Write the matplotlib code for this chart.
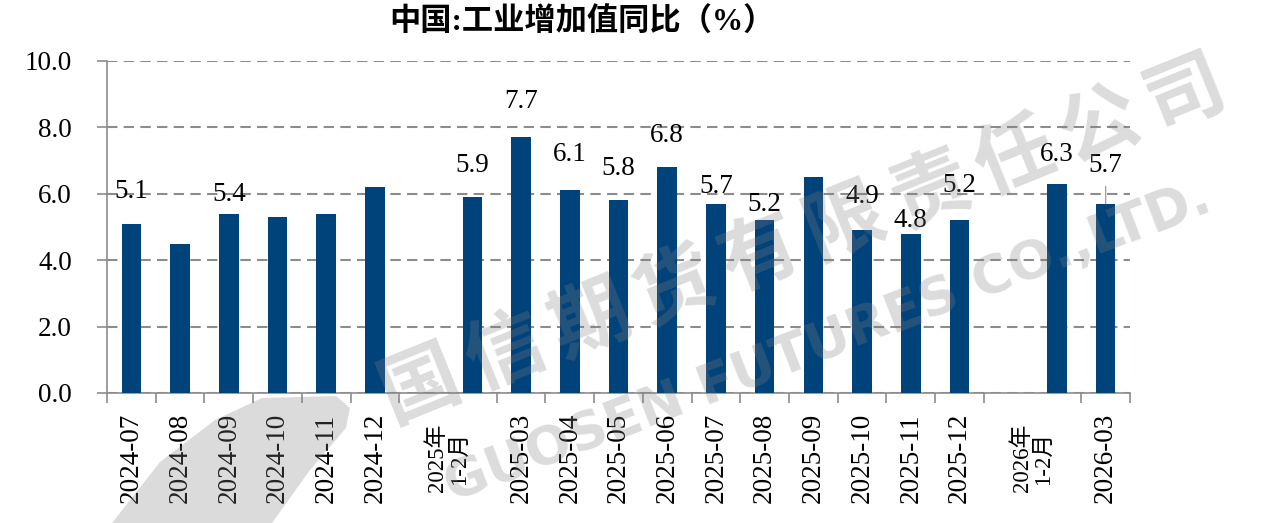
import matplotlib.pyplot as plt
from matplotlib.patches import Polygon
import numpy as np

plt.rcParams['font.family'] = ['Liberation Serif', 'Noto Sans CJK SC']

# Données : production industrielle, glissement annuel (%)
months = ['2024-07', '2024-08', '2024-09', '2024-10', '2024-11', '2024-12',
          '2025-01', '2025-02', '2025-03', '2025-04', '2025-05', '2025-06',
          '2025-07', '2025-08', '2025-09', '2025-10', '2025-11', '2025-12',
          '2026-01', '2026-02', '2026-03']
values = [5.1, 4.5, 5.4, 5.3, 5.4, 6.2,
          np.nan, 5.9, 7.7, 6.1, 5.8, 6.8,
          5.7, 5.2, 6.5, 4.9, 4.8, 5.2,
          np.nan, 6.3, 5.7]
tick_labels = ['2024-07', '2024-08', '2024-09', '2024-10', '2024-11', '2024-12',
               '2025年\n1-2月', '2025-03', '2025-04', '2025-05', '2025-06',
               '2025-07', '2025-08', '2025-09', '2025-10', '2025-11', '2025-12',
               '2026年\n1-2月', '2026-03']
title = '中国:工业增加值同比（%）'

# étiquettes affichées et leur décalage au-dessus de la barre (pixels)
label_offsets = {'2024-07': 32, '2024-09': 19, '2025-02': 32, '2025-03': 36,
                 '2025-04': 36, '2025-05': 32, '2025-06': 32, '2025-07': 17,
                 '2025-08': 16, '2025-10': 34, '2025-11': 13, '2025-12': 35,
                 '2026-02': 29, '2026-03': 38}

W, H = 1274, 523
fig = plt.figure(figsize=(W / 100, H / 100), dpi=100)
ax = fig.add_axes([107 / W, (H - 393) / H, (1130 - 107) / W, (393 - 61) / H])

x = np.arange(len(months))
bar_color = '#00427A'
grey = '#8c8c8c'
ax.bar(x, values, width=0.4, color=bar_color, zorder=3)

for i, m in enumerate(months):
    if m in label_offsets:
        arrow = None
        if m == '2026-03':
            arrow = dict(arrowstyle='-', color='#a0a0a0', lw=1, shrinkA=4, shrinkB=0)
        ax.annotate(f"{values[i]:.1f}", (i, values[i]), xytext=(0, label_offsets[m]),
                    textcoords='offset pixels', ha='center', va='center',
                    fontsize=19.5, zorder=5, arrowprops=arrow)

# axes
ax.set_xlim(-0.5, len(months) - 0.5)
ax.set_ylim(0, 10)
ax.set_yticks(np.arange(0, 10.1, 2))
ax.set_yticklabels([f"{v:.1f}" for v in np.arange(0, 10.1, 2)])
ax.yaxis.grid(True, color=grey, linestyle=(0, (5, 3)), lw=1.5, zorder=1)
ax.set_axisbelow(True)
for s in ['top', 'right']:
    ax.spines[s].set_visible(False)
for s in ['left', 'bottom']:
    ax.spines[s].set_color(grey)
    ax.spines[s].set_linewidth(1.2)

# graduations aux limites des catégories (sauf au milieu des mois 1-2)
bounds = [b for b in np.arange(-0.5, len(months), 1.0)
          if not (months[int(b - 0.5)].endswith('-01') if b > 0 else False)]
ax.set_xticks(bounds)
ax.set_xticklabels([])
ax.tick_params(axis='x', which='major', length=7.2, width=1.2, color=grey)
ax.tick_params(axis='y', length=7.2, width=1.2, color=grey, pad=18, labelsize=19.5)

label_pos = []
for lab in tick_labels:
    if '1-2月' in lab:
        label_pos.append(months.index(lab[:4] + '-01') + 0.5)
    else:
        label_pos.append(months.index(lab))
ax.set_xticks(label_pos, labels=tick_labels, minor=True, rotation=90,
              va='center', ha='center', multialignment='center')
ax.tick_params(axis='x', which='minor', length=0, pad=46.8, labelsize=19.5)
for t in ax.get_xticklabels(minor=True):
    if '\n' in t.get_text():
        t.set_fontsize(16.5)
        t.set_linespacing(1.05)

fig.text(582 / W, 1 - 23 / H, title, fontsize=22.5, weight='bold',
         ha='center', va='center')

# filigrane
wm_color = '#808080'
logo = [(112, 523), (160, 462), (215, 420), (262, 398), (336, 396), (350, 408),
        (346, 428), (310, 470), (272, 523)]
fig.add_artist(Polygon([(px / W, 1 - py / H) for px, py in logo], closed=True,
                       transform=fig.transFigure, facecolor=wm_color, alpha=0.28,
                       edgecolor='none', zorder=0.5))
wm_cn = '国信期货有限责任公司'
x0, y0, x1, y1 = 420, 385, 1185, 93
for k, ch in enumerate(wm_cn):
    t = k / (len(wm_cn) - 1)
    fig.text((x0 + t * (x1 - x0)) / W, 1 - (y0 + t * (y1 - y0)) / H, ch,
             family='Noto Sans CJK SC', weight='bold', fontsize=57, rotation=22,
             color=wm_color, alpha=0.28, ha='center', va='center', zorder=10)
fig.text(828 / W, 1 - 342 / H, 'GUOSEN FUTURES CO.,LTD.', family='DejaVu Sans',
         weight='bold', fontsize=38.5, rotation=21, color=wm_color, alpha=0.28,
         ha='center', va='center', rotation_mode='anchor', zorder=10)

fig.savefig('out.png', dpi=100)
